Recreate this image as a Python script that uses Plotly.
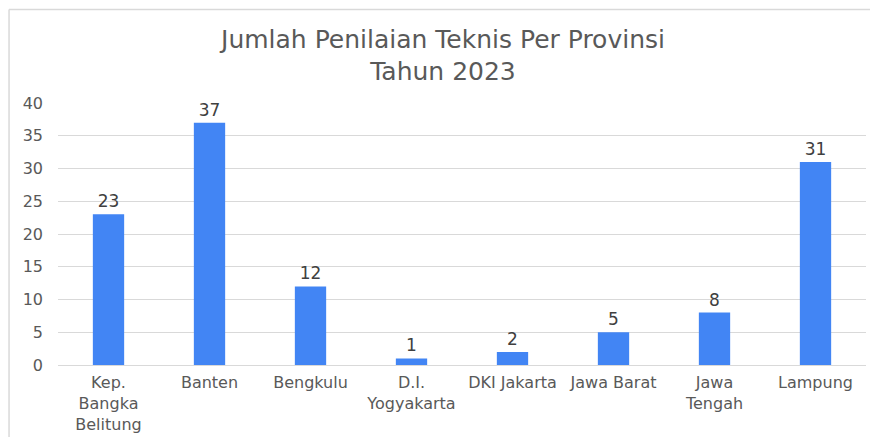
import plotly.graph_objects as go

provinces = ["Kep.<br>Bangka<br>Belitung", "Banten", "Bengkulu", "D.I.<br>Yogyakarta",
             "DKI Jakarta", "Jawa Barat", "Jawa<br>Tengah", "Lampung"]
counts = [23, 37, 12, 1, 2, 5, 8, 31]
y_ticks = [0, 5, 10, 15, 20, 25, 30, 35, 40]

font_family = "DejaVu Sans, Liberation Sans, Arial, sans-serif"
gray = "#595959"

fig = go.Figure(go.Bar(
    x=provinces, y=counts,
    marker=dict(color="#4285F4", line=dict(width=0)),
    text=counts, textposition="outside", cliponaxis=False,
    textfont=dict(size=17, color="#404040", family=font_family),
))

fig.update_layout(
    width=870, height=429,
    margin=dict(l=50, r=12, t=95, b=72, autoexpand=False),
    paper_bgcolor="white", plot_bgcolor="white",
    bargap=0.69,
    showlegend=False,
    title=dict(text="Jumlah Penilaian Teknis Per Provinsi<br>Tahun 2023",
               x=0.5, xanchor="center", y=0.907, yanchor="top",
               font=dict(size=25, color=gray, family=font_family)),
    font=dict(family=font_family, color=gray, size=16),
    xaxis=dict(showgrid=False, showline=False, ticks="", automargin=False,
               ticklabelstandoff=6, tickfont=dict(size=16, color=gray)),
    yaxis=dict(range=[0, 40], tickvals=y_ticks, showgrid=True, gridcolor="#d9d9d9",
               gridwidth=1, zeroline=True, zerolinecolor="#d9d9d9", zerolinewidth=1,
               showline=False, ticks="", ticklabelstandoff=14, automargin=False,
               tickfont=dict(size=16, color=gray)),
    shapes=[
        dict(type="line", xref="paper", yref="paper", x0=-0.0606, x1=1.2, y0=1.357, y1=1.357,
             line=dict(color="#d9d9d9", width=1.5)),
        dict(type="line", xref="paper", yref="paper", x0=-0.0606, x1=-0.0606, y0=1.357, y1=-0.5,
             line=dict(color="#d9d9d9", width=1.5)),
    ],
)

fig.write_html("out.html")
